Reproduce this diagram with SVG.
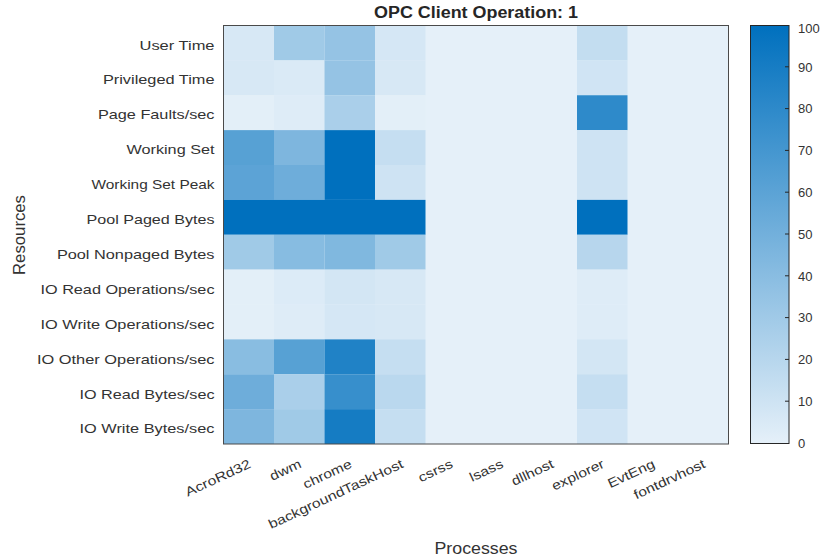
<svg xmlns="http://www.w3.org/2000/svg" width="821" height="560" viewBox="0 0 821 560">
<defs>
<linearGradient id="cmap" x1="0" y1="1" x2="0" y2="0">
<stop offset="0" stop-color="#e5f0f9"/>
<stop offset="1" stop-color="#0070be"/>
</linearGradient>
<style>
text{font-family:"Liberation Sans",Arial,Helvetica,sans-serif;fill:#333;}
.yl{font-size:13px;text-anchor:end;}
.xl{font-size:13px;text-anchor:end;}
.cl{font-size:13px;}
.ax{font-size:16px;text-anchor:middle;}
.title{font-size:16px;font-weight:bold;text-anchor:middle;fill:#262626;}
.frame{fill:none;stroke:#4a4a4a;stroke-width:1;}
.tick{stroke:#262626;stroke-width:1;}
</style>
</defs>
<rect width="821" height="560" fill="#ffffff"/>
<text class="title" x="476" y="18" textLength="204" lengthAdjust="spacingAndGlyphs">OPC Client Operation: 1</text>
<g id="heatmap">
<rect x="223.5" y="25.5" width="505" height="418.5" fill="#e5f0f9"/>
<g id="row-user-time">
<rect x="223.5" y="25.5" width="50.5" height="34.9" fill="#d7e8f5"/>
<rect x="274" y="25.5" width="50.5" height="34.9" fill="#a0cae7"/>
<rect x="324.5" y="25.5" width="50.5" height="34.9" fill="#95c3e4"/>
<rect x="375" y="25.5" width="50.5" height="34.9" fill="#d5e7f5"/>
<rect x="577" y="25.5" width="50.5" height="34.9" fill="#c3ddf0"/>
</g>
<g id="row-privileged-time">
<rect x="223.5" y="60.375" width="50.5" height="34.9" fill="#d7e8f5"/>
<rect x="274" y="60.375" width="50.5" height="34.9" fill="#daeaf6"/>
<rect x="324.5" y="60.375" width="50.5" height="34.9" fill="#95c3e4"/>
<rect x="375" y="60.375" width="50.5" height="34.9" fill="#d7e8f5"/>
<rect x="577" y="60.375" width="50.5" height="34.9" fill="#d0e4f4"/>
</g>
<g id="row-page-faults">
<rect x="223.5" y="95.25" width="50.5" height="34.9" fill="#e3eff8"/>
<rect x="274" y="95.25" width="50.5" height="34.9" fill="#deecf7"/>
<rect x="324.5" y="95.25" width="50.5" height="34.9" fill="#aacfea"/>
<rect x="375" y="95.25" width="50.5" height="34.9" fill="#e3eff8"/>
<rect x="577" y="95.25" width="50.5" height="34.9" fill="#2e8aca"/>
</g>
<g id="row-working-set">
<rect x="223.5" y="130.125" width="50.5" height="34.9" fill="#57a1d4"/>
<rect x="274" y="130.125" width="50.5" height="34.9" fill="#7eb6de"/>
<rect x="324.5" y="130.125" width="50.5" height="34.9" fill="#0070be"/>
<rect x="375" y="130.125" width="50.5" height="34.9" fill="#c5def1"/>
<rect x="577" y="130.125" width="50.5" height="34.9" fill="#cee3f3"/>
</g>
<g id="row-working-set-peak">
<rect x="223.5" y="165" width="50.5" height="34.9" fill="#5ca3d6"/>
<rect x="274" y="165" width="50.5" height="34.9" fill="#6eadda"/>
<rect x="324.5" y="165" width="50.5" height="34.9" fill="#0070be"/>
<rect x="375" y="165" width="50.5" height="34.9" fill="#cee3f3"/>
<rect x="577" y="165" width="50.5" height="34.9" fill="#cee3f3"/>
</g>
<g id="row-pool-paged">
<rect x="223.5" y="199.875" width="202" height="34.9" fill="#0070be"/>
<rect x="577" y="199.875" width="50.5" height="34.9" fill="#0070be"/>
</g>
<g id="row-pool-nonpaged">
<rect x="223.5" y="234.75" width="50.5" height="34.9" fill="#a0cae7"/>
<rect x="274" y="234.75" width="50.5" height="34.9" fill="#87bce1"/>
<rect x="324.5" y="234.75" width="50.5" height="34.9" fill="#80b8df"/>
<rect x="375" y="234.75" width="50.5" height="34.9" fill="#a0cae7"/>
<rect x="577" y="234.75" width="50.5" height="34.9" fill="#b7d6ed"/>
</g>
<g id="row-io-read-ops">
<rect x="223.5" y="269.625" width="50.5" height="34.9" fill="#e3eff8"/>
<rect x="274" y="269.625" width="50.5" height="34.9" fill="#dcebf7"/>
<rect x="324.5" y="269.625" width="50.5" height="34.9" fill="#d3e6f4"/>
<rect x="375" y="269.625" width="50.5" height="34.9" fill="#d7e8f5"/>
<rect x="577" y="269.625" width="50.5" height="34.9" fill="#deecf7"/>
</g>
<g id="row-io-write-ops">
<rect x="223.5" y="304.5" width="50.5" height="34.9" fill="#e3eff8"/>
<rect x="274" y="304.5" width="50.5" height="34.9" fill="#deecf7"/>
<rect x="324.5" y="304.5" width="50.5" height="34.9" fill="#d5e7f5"/>
<rect x="375" y="304.5" width="50.5" height="34.9" fill="#d7e8f5"/>
<rect x="577" y="304.5" width="50.5" height="34.9" fill="#deecf7"/>
</g>
<g id="row-io-other-ops">
<rect x="223.5" y="339.375" width="50.5" height="34.9" fill="#89bde1"/>
<rect x="274" y="339.375" width="50.5" height="34.9" fill="#57a1d4"/>
<rect x="324.5" y="339.375" width="50.5" height="34.9" fill="#2082c6"/>
<rect x="375" y="339.375" width="50.5" height="34.9" fill="#c5def1"/>
<rect x="577" y="339.375" width="50.5" height="34.9" fill="#d3e6f4"/>
</g>
<g id="row-io-read-bytes">
<rect x="223.5" y="374.25" width="50.5" height="34.9" fill="#6eadda"/>
<rect x="274" y="374.25" width="50.5" height="34.9" fill="#aacfea"/>
<rect x="324.5" y="374.25" width="50.5" height="34.9" fill="#378fcc"/>
<rect x="375" y="374.25" width="50.5" height="34.9" fill="#bad8ee"/>
<rect x="577" y="374.25" width="50.5" height="34.9" fill="#c5def1"/>
</g>
<g id="row-io-write-bytes">
<rect x="223.5" y="409.125" width="50.5" height="34.875" fill="#7eb6de"/>
<rect x="274" y="409.125" width="50.5" height="34.875" fill="#a0cae7"/>
<rect x="324.5" y="409.125" width="50.5" height="34.875" fill="#157cc3"/>
<rect x="375" y="409.125" width="50.5" height="34.875" fill="#c5def1"/>
<rect x="577" y="409.125" width="50.5" height="34.875" fill="#d0e4f4"/>
</g>
<rect class="frame" x="223.5" y="25.5" width="505" height="418.5"/>
</g>
<g id="y-labels">
<text class="yl" x="214.5" y="49.5" textLength="75" lengthAdjust="spacingAndGlyphs">User Time</text>
<text class="yl" x="214.5" y="84.4" textLength="111.6" lengthAdjust="spacingAndGlyphs">Privileged Time</text>
<text class="yl" x="214.5" y="119.3" textLength="116.6" lengthAdjust="spacingAndGlyphs">Page Faults/sec</text>
<text class="yl" x="214.5" y="154.2" textLength="88" lengthAdjust="spacingAndGlyphs">Working Set</text>
<text class="yl" x="214.5" y="189.1" textLength="123" lengthAdjust="spacingAndGlyphs">Working Set Peak</text>
<text class="yl" x="214.5" y="224" textLength="128" lengthAdjust="spacingAndGlyphs">Pool Paged Bytes</text>
<text class="yl" x="214.5" y="258.9" textLength="157.6" lengthAdjust="spacingAndGlyphs">Pool Nonpaged Bytes</text>
<text class="yl" x="214.5" y="293.8" textLength="174" lengthAdjust="spacingAndGlyphs">IO Read Operations/sec</text>
<text class="yl" x="214.5" y="328.7" textLength="174" lengthAdjust="spacingAndGlyphs">IO Write Operations/sec</text>
<text class="yl" x="214.5" y="363.6" textLength="177.6" lengthAdjust="spacingAndGlyphs">IO Other Operations/sec</text>
<text class="yl" x="214.5" y="398.5" textLength="135" lengthAdjust="spacingAndGlyphs">IO Read Bytes/sec</text>
<text class="yl" x="214.5" y="433.4" textLength="135" lengthAdjust="spacingAndGlyphs">IO Write Bytes/sec</text>
</g>
<g id="x-labels">
<text class="xl" transform="translate(251.75,467) rotate(-25)" textLength="70.5" lengthAdjust="spacingAndGlyphs">AcroRd32</text>
<text class="xl" transform="translate(302.25,467) rotate(-25)" textLength="33" lengthAdjust="spacingAndGlyphs">dwm</text>
<text class="xl" transform="translate(352.75,467) rotate(-25)" textLength="52" lengthAdjust="spacingAndGlyphs">chrome</text>
<text class="xl" transform="translate(404.25,467) rotate(-25)" textLength="147" lengthAdjust="spacingAndGlyphs">backgroundTaskHost</text>
<text class="xl" transform="translate(453.75,467) rotate(-25)" textLength="36.4" lengthAdjust="spacingAndGlyphs">csrss</text>
<text class="xl" transform="translate(504.25,467) rotate(-25)" textLength="35.5" lengthAdjust="spacingAndGlyphs">lsass</text>
<text class="xl" transform="translate(554.75,467) rotate(-25)" textLength="45" lengthAdjust="spacingAndGlyphs">dllhost</text>
<text class="xl" transform="translate(605.25,467) rotate(-25)" textLength="56.3" lengthAdjust="spacingAndGlyphs">explorer</text>
<text class="xl" transform="translate(655.75,467) rotate(-25)" textLength="50.3" lengthAdjust="spacingAndGlyphs">EvtEng</text>
<text class="xl" transform="translate(706.25,467) rotate(-25)" textLength="77.2" lengthAdjust="spacingAndGlyphs">fontdrvhost</text>
</g>
<text class="ax" x="476" y="554" textLength="83" lengthAdjust="spacingAndGlyphs">Processes</text>
<text class="ax" transform="translate(25,235) rotate(-90)" textLength="80" lengthAdjust="spacingAndGlyphs">Resources</text>
<g id="colorbar">
<rect x="750.5" y="25.5" width="38.5" height="418" fill="url(#cmap)" stroke="#262626" stroke-width="1"/>
<g class="tick">
<line x1="785" y1="401.2" x2="789" y2="401.2"/>
<line x1="785" y1="359.4" x2="789" y2="359.4"/>
<line x1="785" y1="317.6" x2="789" y2="317.6"/>
<line x1="785" y1="275.8" x2="789" y2="275.8"/>
<line x1="785" y1="234" x2="789" y2="234"/>
<line x1="785" y1="192.2" x2="789" y2="192.2"/>
<line x1="785" y1="150.4" x2="789" y2="150.4"/>
<line x1="785" y1="108.6" x2="789" y2="108.6"/>
<line x1="785" y1="66.8" x2="789" y2="66.8"/>
</g>
<text class="cl" x="798" y="33">100</text>
<text class="cl" x="798" y="71.5">90</text>
<text class="cl" x="798" y="113.3">80</text>
<text class="cl" x="798" y="155.1">70</text>
<text class="cl" x="798" y="196.9">60</text>
<text class="cl" x="798" y="238.7">50</text>
<text class="cl" x="798" y="280.5">40</text>
<text class="cl" x="798" y="322.3">30</text>
<text class="cl" x="798" y="364.1">20</text>
<text class="cl" x="798" y="405.9">10</text>
<text class="cl" x="798" y="448">0</text>
</g>
</svg>
